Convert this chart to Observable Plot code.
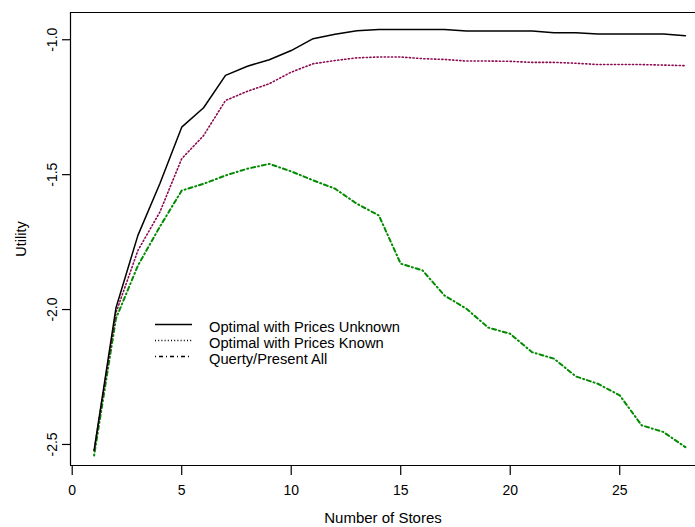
<!DOCTYPE html>
<html>
<head>
<meta charset="utf-8">
<script src="https://cdn.jsdelivr.net/npm/d3@7"></script>
<script src="https://cdn.jsdelivr.net/npm/@observablehq/plot@0.6"></script>
<style>
  body { margin: 0; background: #fff; }
  #wrap { position: relative; width: 695px; height: 527px; overflow: hidden; background: #fff;
          font-family: "Liberation Sans", Arial, sans-serif; }
  #wrap svg { display: block; }
  #legend { position: absolute; left: 0; top: 0; pointer-events: none; }
</style>
</head>
<body>
<div id="wrap"></div>
<script>
// ---- data ----
const stores = [1,2,3,4,5,6,7,8,9,10,11,12,13,14,15,16,17,18,19,20,21,22,23,24,25,26,27,28];
const pricesUnknown = [-2.522,-1.993,-1.725,-1.534,-1.324,-1.252,-1.132,-1.098,-1.074,-1.040,
  -0.996,-0.980,-0.967,-0.962,-0.962,-0.962,-0.962,-0.968,-0.968,-0.968,-0.968,-0.974,-0.974,
  -0.979,-0.979,-0.979,-0.979,-0.985];
const pricesKnown = [-2.522,-2.011,-1.781,-1.639,-1.441,-1.355,-1.225,-1.191,-1.163,-1.120,
  -1.089,-1.077,-1.067,-1.064,-1.064,-1.070,-1.073,-1.079,-1.079,-1.080,-1.084,-1.084,-1.087,
  -1.092,-1.092,-1.092,-1.094,-1.096];
const presentAll = [-2.541,-2.033,-1.837,-1.693,-1.559,-1.534,-1.503,-1.478,-1.460,-1.488,
  -1.521,-1.552,-1.608,-1.651,-1.830,-1.855,-1.948,-1.997,-2.067,-2.090,-2.158,-2.182,-2.248,
  -2.275,-2.318,-2.429,-2.454,-2.510];
const seriesNames = ["Optimal with Prices Unknown", "Optimal with Prices Known", "Querty/Present All"];
const xTicks = [0, 5, 10, 15, 20, 25];
const yTicks = [-2.5, -2.0, -1.5, -1.0];
const yTickLabels = ["-2.5", "-2.0", "-1.5", "-1.0"];
const xLabel = "Number of Stores";
const yLabel = "Utility";

// ---- styles ----
const styles = [
  { stroke: "#000000", strokeWidth: 1.5, dash: null },
  { stroke: "#8b0a50", strokeWidth: 1.6, dash: "1.2,2.4" },
  { stroke: "#008b00", strokeWidth: 2, dash: "1,3,4,3" }
];
const seriesValues = [pricesUnknown, pricesKnown, presentAll];

const xDomain = [-0.078, 28.46];
const yDomain = [-2.578, -0.899];

const lineMarks = seriesValues.map((vals, k) => Plot.line(
  stores.map((s, i) => ({ s, v: vals[i] })),
  { x: "s", y: "v", stroke: styles[k].stroke, strokeWidth: styles[k].strokeWidth,
    strokeDasharray: styles[k].dash, strokeLinejoin: "round" }
)).reverse();

const plot = Plot.plot({
  width: 695,
  height: 527,
  marginLeft: 70,
  marginRight: 0,
  marginTop: 12,
  marginBottom: 62,
  style: { fontFamily: "'Liberation Sans', Arial, sans-serif", fontSize: "14px", color: "#000", background: "#fff" },
  x: { domain: xDomain, label: null },
  y: { domain: yDomain, label: null },
  marks: [
    // frame: left, top, bottom
    Plot.ruleX([xDomain[0]], { stroke: "#000", strokeWidth: 1.2 }),
    Plot.ruleY([yDomain[0], yDomain[1]], { stroke: "#000", strokeWidth: 1.2 }),
    Plot.axisX({ ticks: xTicks, tickSize: 10, tickPadding: 10, label: null, tickFormat: d => String(d),
                 stroke: "#000", strokeWidth: 1.2, fontSize: 14 }),
    Plot.axisY({ ticks: yTicks, tickSize: 8, label: null, tickFormat: () => "", stroke: "#000", strokeWidth: 1.2 }),
    Plot.text(yTicks, { y: d => d, text: (d, i) => yTickLabels[i], frameAnchor: "left", dx: -14,
                        rotate: -90, textAnchor: "middle", lineAnchor: "bottom", fontSize: 14, fill: "#000" }),
    Plot.text([yLabel], { text: d => d, frameAnchor: "left", dx: -45, rotate: -90,
                          textAnchor: "middle", lineAnchor: "bottom", fontSize: 14.5, fill: "#000" }),
    Plot.text([xLabel], { text: d => d, frameAnchor: "bottom", dy: 57, textAnchor: "middle",
                          lineAnchor: "bottom", fontSize: 15, fill: "#000" }),
    ...lineMarks
  ]
});

const wrap = document.getElementById("wrap");
wrap.appendChild(plot);

// ---- legend overlay ----
const leg = d3.select(wrap).append("svg").attr("id", "legend")
  .attr("width", 695).attr("height", 527);
const legY = [324.5, 340.5, 356.5];
seriesNames.forEach((name, k) => {
  leg.append("line").attr("x1", 155).attr("x2", 192).attr("y1", legY[k]).attr("y2", legY[k])
    .attr("stroke", "#000").attr("stroke-width", k === 0 ? 1.5 : 1.3)
    .attr("stroke-dasharray", k === 0 ? null : (k === 1 ? "1,2.2" : "1,3,4,3"));
  leg.append("text").attr("x", 209).attr("y", legY[k] + 7.5)
    .attr("font-family", "'Liberation Sans', Arial, sans-serif").attr("font-size", 14.7)
    .attr("fill", "#000").text(name);
});
</script>
</body>
</html>
